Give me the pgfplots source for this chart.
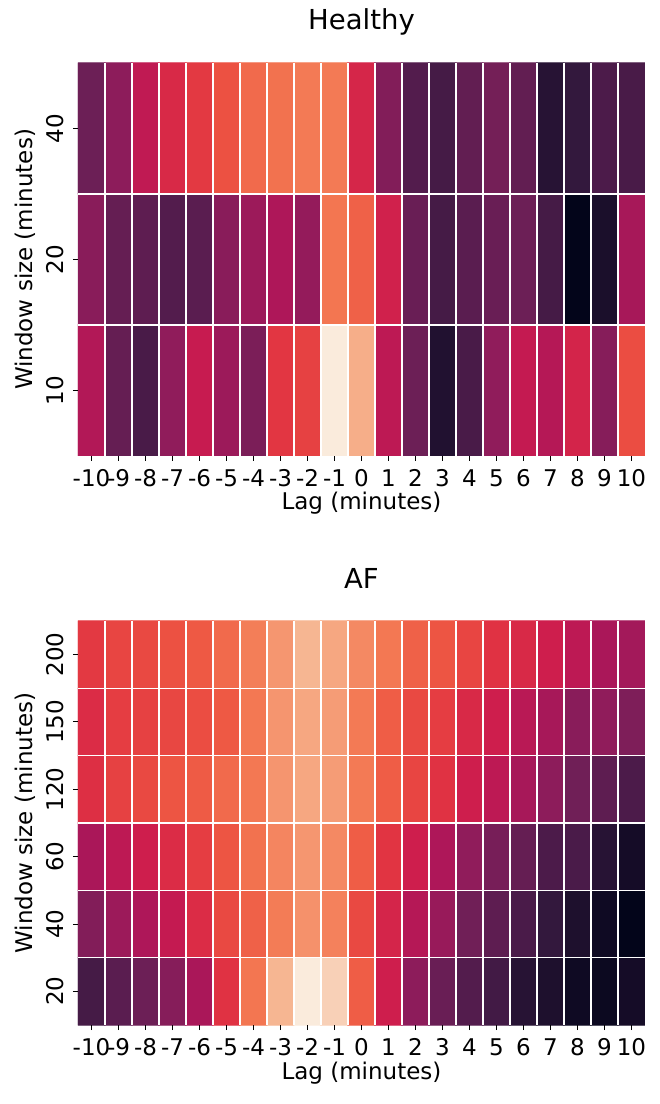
\documentclass[border=0pt]{standalone}
\usepackage{fontspec}
\setmainfont{DejaVu Sans}
\usepackage{pgfplots}
\pgfplotsset{compat=1.18}
\pgfplotsset{colormap={rocket}{
 rgb255(0)=(3,5,26)
 rgb255(1)=(53,25,62)
 rgb255(2)=(82,28,77)
 rgb255(3)=(112,31,87)
 rgb255(4)=(142,28,91)
 rgb255(5)=(173,23,89)
 rgb255(6)=(203,27,79)
 rgb255(7)=(225,51,66)
 rgb255(8)=(237,84,66)
 rgb255(9)=(243,118,81)
 rgb255(10)=(245,150,112)
 rgb255(11)=(246,180,143)
 rgb255(12)=(250,235,221)
}}
\pgfplotsset{
 hm/.style={
  scale only axis, width=226.8pt,
  xmin=-10.5, xmax=10.5,
  xtick={-10,...,10},
  xticklabels={-10,-9,-8,-7,-6,-5,-4,-3,-2,-1,0,1,2,3,4,5,6,7,8,9,10},
  minor xtick={-9.5,-8.5,...,9.5},
  colormap name=rocket, point meta min=0, point meta max=1,
  axis line style={draw=none},
  tick align=outside, major tick length=2pt, minor tick length=0pt,
  major tick style={black, line width=0.4pt},
  xtick pos=left, ytick pos=left,
  xminorgrids=true, yminorgrids=true,
  minor grid style={white, line width=0.5pt},
  axis on top,
  ticklabel style={font=\fontsize{9.2}{11}\selectfont},
  label style={font=\fontsize{9.2}{11}\selectfont},
  title style={font=\fontsize{11}{13}\selectfont, anchor=center, yshift=-6pt},
  yticklabel style={rotate=90, anchor=south},
  xlabel={Lag (minutes)}, ylabel={Window size (minutes)},
  ylabel style={at={(axis description cs:-0.0935,0.5)}, anchor=center},
 }
}
\begin{document}
\begin{tikzpicture}
\useasboundingbox (0,0) rectangle (263.6pt,441.6pt);
% Healthy
\begin{axis}[hm, at={(31.2pt,259.2pt)}, anchor=south west, height=157.2pt,
  ymin=-0.5, ymax=2.5, ytick={0,1,2}, yticklabels={10,20,40},
  minor ytick={0.5,1.5},
  title={Healthy}, title style={at={(axis description cs:0.5,1.104)}},
  xlabel style={at={(axis description cs:0.5,-0.12)}, anchor=center}]
\addplot[matrix plot*, mesh/cols=21, mesh/rows=3, point meta=explicit] coordinates {
(-10,0) [0.43] (-9,0) [0.22] (-8,0) [0.14] (-7,0) [0.34] (-6,0) [0.49] (-5,0) [0.37] (-4,0) [0.28] (-3,0) [0.59] (-2,0) [0.62] (-1,0) [1.00] (0,0) [0.90]
(1,0) [0.46] (2,0) [0.24] (3,0) [0.05] (4,0) [0.14] (5,0) [0.34] (6,0) [0.48] (7,0) [0.44] (8,0) [0.53] (9,0) [0.31] (10,0) [0.65]

(-10,1) [0.32] (-9,1) [0.22] (-8,1) [0.20] (-7,1) [0.17] (-6,1) [0.19] (-5,1) [0.32] (-4,1) [0.37] (-3,1) [0.42] (-2,1) [0.35] (-1,1) [0.75] (0,1) [0.70]
(1,1) [0.52] (2,1) [0.23] (3,1) [0.13] (4,1) [0.19] (5,1) [0.23] (6,1) [0.24] (7,1) [0.13] (8,1) [0.00] (9,1) [0.04] (10,1) [0.40]

(-10,2) [0.24] (-9,2) [0.33] (-8,2) [0.47] (-7,2) [0.55] (-6,2) [0.60] (-5,2) [0.66] (-4,2) [0.72] (-3,2) [0.74] (-2,2) [0.76] (-1,2) [0.76] (0,2) [0.54]
(1,2) [0.30] (2,2) [0.17] (3,2) [0.13] (4,2) [0.21] (5,2) [0.26] (6,2) [0.21] (7,2) [0.06] (8,2) [0.08] (9,2) [0.15] (10,2) [0.14]
};
\end{axis}
% AF
\begin{axis}[hm, at={(31.2pt,31.6pt)}, anchor=south west, height=161.6pt,
  ymin=-0.5, ymax=5.5, ytick={0,1,2,3,4,5}, yticklabels={20,40,60,120,150,200},
  minor ytick={0.5,1.5,2.5,3.5,4.5},
  title={AF}, title style={at={(axis description cs:0.5,1.106)}},
  xlabel style={at={(axis description cs:0.5,-0.118)}, anchor=center}]
\addplot[matrix plot*, mesh/cols=21, mesh/rows=6, point meta=explicit] coordinates {
(-10,0) [0.13] (-9,0) [0.19] (-8,0) [0.24] (-7,0) [0.31] (-6,0) [0.41] (-5,0) [0.58] (-4,0) [0.75] (-3,0) [0.92] (-2,0) [1.00] (-1,0) [0.96] (0,0) [0.69]
(1,0) [0.51] (2,0) [0.33] (3,0) [0.23] (4,0) [0.17] (5,0) [0.12] (6,0) [0.06] (7,0) [0.045] (8,0) [0.02] (9,0) [0.015] (10,0) [0.03]

(-10,1) [0.30] (-9,1) [0.37] (-8,1) [0.42] (-7,1) [0.48] (-6,1) [0.56] (-5,1) [0.64] (-4,1) [0.70] (-3,1) [0.765] (-2,1) [0.82] (-1,1) [0.78] (0,1) [0.64]
(1,1) [0.535] (2,1) [0.44] (3,1) [0.36] (4,1) [0.25] (5,1) [0.20] (6,1) [0.145] (7,1) [0.08] (8,1) [0.045] (9,1) [0.02] (10,1) [0.00]

(-10,2) [0.41] (-9,2) [0.46] (-8,2) [0.51] (-7,2) [0.56] (-6,2) [0.61] (-5,2) [0.67] (-4,2) [0.74] (-3,2) [0.79] (-2,2) [0.835] (-1,2) [0.80] (0,2) [0.69]
(1,2) [0.585] (2,2) [0.51] (3,2) [0.42] (4,2) [0.34] (5,2) [0.27] (6,2) [0.22] (7,2) [0.15] (8,2) [0.145] (9,2) [0.06] (10,2) [0.03]

(-10,3) [0.57] (-9,3) [0.62] (-8,3) [0.64] (-7,3) [0.67] (-6,3) [0.685] (-5,3) [0.72] (-4,3) [0.755] (-3,3) [0.83] (-2,3) [0.88] (-1,3) [0.85] (0,3) [0.76]
(1,3) [0.69] (2,3) [0.63] (3,3) [0.58] (4,3) [0.51] (5,3) [0.46] (6,3) [0.40] (7,3) [0.33] (8,3) [0.25] (9,3) [0.20] (10,3) [0.15]

(-10,4) [0.56] (-9,4) [0.61] (-8,4) [0.62] (-7,4) [0.635] (-6,4) [0.65] (-5,4) [0.68] (-4,4) [0.755] (-3,4) [0.83] (-2,4) [0.88] (-1,4) [0.85] (0,4) [0.76]
(1,4) [0.69] (2,4) [0.64] (3,4) [0.61] (4,4) [0.55] (5,4) [0.51] (6,4) [0.45] (7,4) [0.40] (8,4) [0.32] (9,4) [0.34] (10,4) [0.29]

(-10,5) [0.60] (-9,5) [0.63] (-8,5) [0.64] (-7,5) [0.66] (-6,5) [0.68] (-5,5) [0.72] (-4,5) [0.77] (-3,5) [0.835] (-2,5) [0.92] (-1,5) [0.88] (0,5) [0.80]
(1,5) [0.755] (2,5) [0.70] (3,5) [0.67] (4,5) [0.63] (5,5) [0.58] (6,5) [0.55] (7,5) [0.51] (8,5) [0.46] (9,5) [0.41] (10,5) [0.39]
};
\end{axis}
\end{tikzpicture}
\end{document}
